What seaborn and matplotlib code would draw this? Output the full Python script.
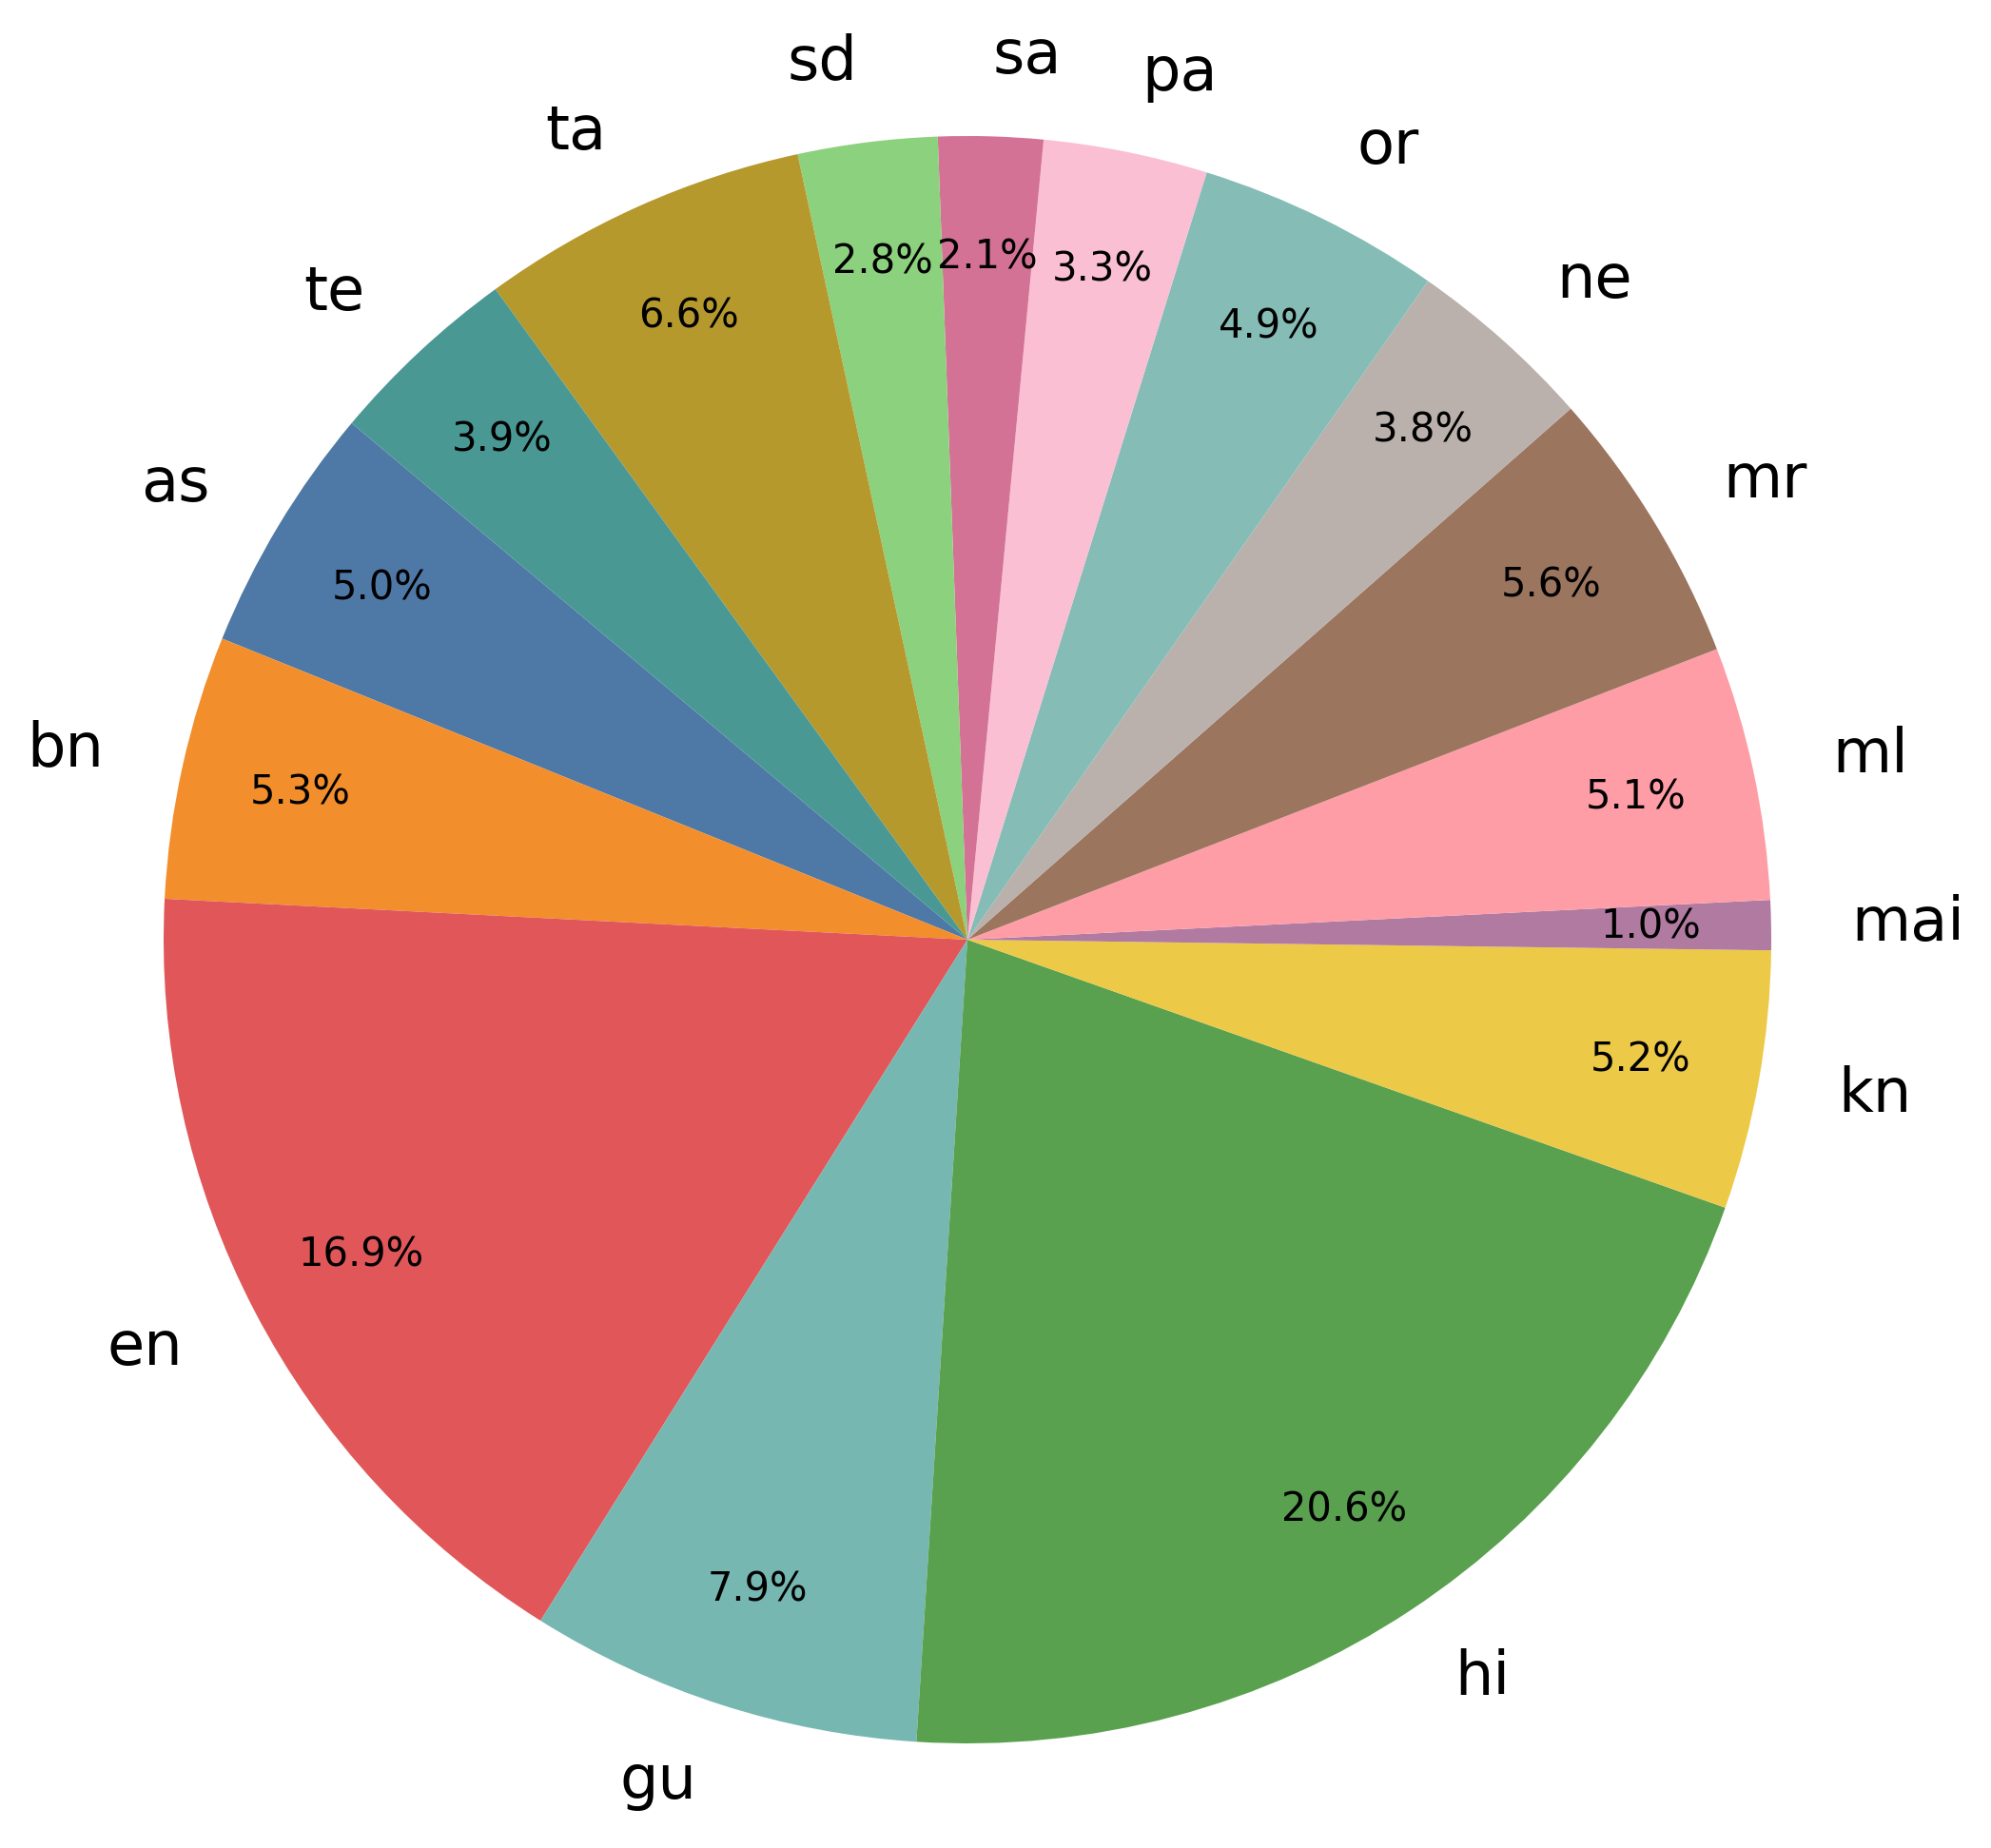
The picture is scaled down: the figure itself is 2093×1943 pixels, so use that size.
import numpy as np
import pandas as pd
import seaborn as sns
import matplotlib
matplotlib.use("Agg")
import matplotlib.pyplot as plt

# language share
langs = ["as", "bn", "en", "gu", "hi", "kn", "mai", "ml",
         "mr", "ne", "or", "pa", "sa", "sd", "ta", "te"]
share = [5.0, 5.3, 16.9, 7.9, 20.6, 5.2, 1.0, 5.1,
         5.6, 3.8, 4.9, 3.3, 2.1, 2.8, 6.6, 3.9]
colours = ["#4e79a7", "#f28e2b", "#e15759", "#76b7b2", "#59a14f", "#edc948",
           "#b07aa1", "#ff9da7", "#9c755f", "#bab0ac", "#86bcb6", "#fabfd2",
           "#d37295", "#8cd17d", "#b6992d", "#499894"]

sns.set_style("white")
plt.rcParams["text.color"] = "black"
df = pd.DataFrame({"lang": langs, "share": share})
pal = sns.color_palette(colours)

fig = plt.figure(figsize=(2093 / 200, 1943 / 200), dpi=200)
ax = fig.add_axes([0, 0, 1, 1])
wedges, texts, autotexts = ax.pie(df["share"], labels=df["lang"], colors=pal,
                                  startangle=140, autopct="%1.1f%%",
                                  pctdistance=0.85, labeldistance=1.1,
                                  wedgeprops={"linewidth": 0, "edgecolor": "none"},
                                  textprops={"fontsize": 23, "color": "black"})
for t in autotexts:
    t.set_fontsize(15)

# place pie like the reference (centre ~ (1017, 988) px, radius ~845 px)
r = 845.0
cx, cy = 1017.0, 988.0
ax.set_aspect("auto")
ax.set_xlim(-cx / r, (2093 - cx) / r)
ax.set_ylim(-(1943 - cy) / r, cy / r)
ax.axis("off")

fig.savefig("out.png", dpi=200)
